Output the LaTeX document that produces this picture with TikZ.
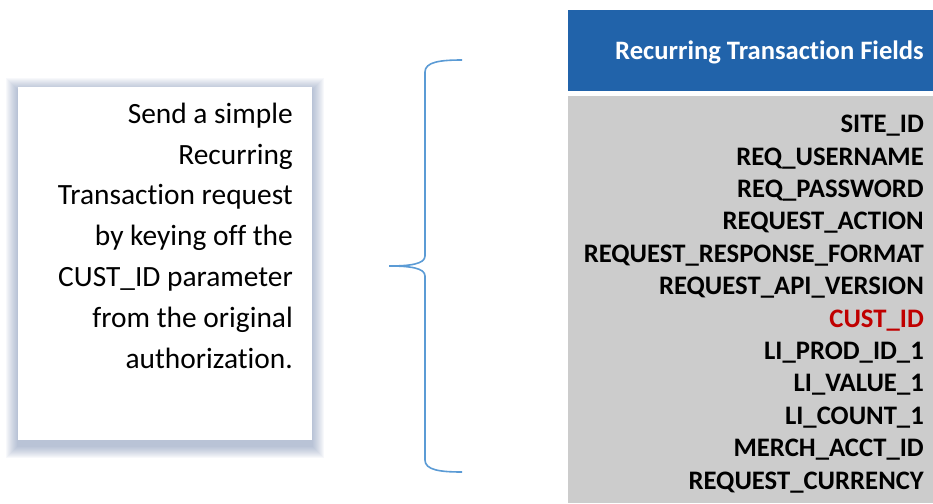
\documentclass[tikz,border=0pt]{standalone}
\usepackage{fontspec}
\setmainfont{Carlito}[Ligatures={NoCommon,NoContextual}]
\definecolor{hdrblue}{HTML}{2163AA}
\definecolor{listgray}{HTML}{CCCCCC}
\definecolor{bracecol}{HTML}{5B9BD5}
\definecolor{custred}{HTML}{C00000}
\definecolor{shadowcol}{HTML}{6A7FA8}
\begin{document}
\begin{tikzpicture}[x=1pt,y=-1pt,
  fieldtxt/.style={anchor=base east,inner sep=0pt,font=\fontsize{26.7}{26.7}\selectfont\bfseries,text=black},
  desctxt/.style={anchor=base east,inner sep=0pt,font=\fontsize{29.4}{29.4}\selectfont,text=black}]
\useasboundingbox (0,0) rectangle (933,503);
% header and list panels
\fill[hdrblue] (568,10) rectangle (933,91);
\node[anchor=base east,inner sep=0pt,text=white,font=\fontsize{26.6}{26.6}\selectfont\bfseries] (title) at (924,59.5) {Recurring Transaction Fields};
\fill[listgray] (568,96) rectangle (933,503);
% list fields
\node[fieldtxt] (f1) at (924,132.7) {SITE\_ID};
\node[fieldtxt] (f2) at (924,165.1) {REQ\_USERNAME};
\node[fieldtxt] (f3) at (924,197.5) {REQ\_PASSWORD};
\node[fieldtxt] (f4) at (924,229.9) {REQUEST\_ACTION};
\node[fieldtxt] (f5) at (924,262.3) {REQUEST\_RESPONSE\_FORMAT};
\node[fieldtxt] (f6) at (924,294.7) {REQUEST\_API\_VERSION};
\node[fieldtxt,text=custred] (f7) at (924,327.1) {CUST\_ID};
\node[fieldtxt] (f8) at (924,359.5) {LI\_PROD\_ID\_1};
\node[fieldtxt] (f9) at (924,391.9) {LI\_VALUE\_1};
\node[fieldtxt] (f10) at (924,424.3) {LI\_COUNT\_1};
\node[fieldtxt] (f11) at (924,456.7) {MERCH\_ACCT\_ID};
\node[fieldtxt] (f12) at (924,489.1) {REQUEST\_CURRENCY};
% shadow of the description box
\foreach \i in {1,...,12}{
  \fill[shadowcol,opacity=0.05] (18-\i,87-\i+3) rectangle (312+\i,440+\i+6);
}
\fill[white] (18,87) rectangle (312,440);
\node[desctxt] (d1) at (293,123.3) {Send a simple};
\node[desctxt] (d2) at (293,164.1) {Recurring};
\node[desctxt] (d3) at (293,204.9) {Transaction request};
\node[desctxt] (d4) at (293,245.7) {by keying off the};
\node[desctxt] (d5) at (293,286.5) {CUST\_ID parameter};
\node[desctxt] (d6) at (293,327.3) {from the original};
\node[desctxt] (d7) at (293,368.1) {authorization.};
% brace
\coordinate (btop) at (462,60);
\coordinate (btip) at (389,266);
\coordinate (bbot) at (462,472);
\draw[bracecol,line width=1.6pt]
  (btop) .. controls (440,60) and (425,62) .. (425,72) -- (425,256)
  .. controls (425,264) and (410,266) .. (btip)
  .. controls (410,266) and (425,268) .. (425,276) -- (425,460)
  .. controls (425,470) and (440,472) .. (bbot);
\end{tikzpicture}
\end{document}
